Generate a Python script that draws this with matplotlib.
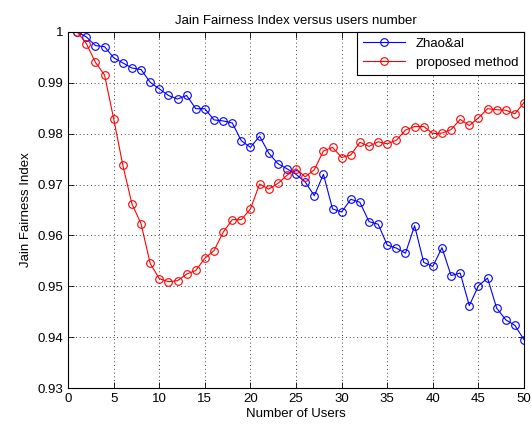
import matplotlib
matplotlib.use("Agg")
import matplotlib.pyplot as plt
from matplotlib.ticker import FuncFormatter

users = list(range(1, 51))
zhao = [1.0, 0.999, 0.9973, 0.9971, 0.9949, 0.9939, 0.9929, 0.9926, 0.9901, 0.9888,
        0.9875, 0.9868, 0.9875, 0.9849, 0.9849, 0.9827, 0.9825, 0.9821, 0.9786, 0.9773,
        0.9795, 0.9762, 0.9741, 0.9731, 0.9720, 0.9705, 0.9678, 0.9720, 0.9652, 0.9646,
        0.9671, 0.9665, 0.9627, 0.9622, 0.9581, 0.9575, 0.9565, 0.9619, 0.9547, 0.9539,
        0.9576, 0.9521, 0.9526, 0.9462, 0.9501, 0.9516, 0.9457, 0.9434, 0.9423, 0.9395]
proposed = [1.0, 0.9977, 0.9940, 0.9915, 0.9829, 0.9738, 0.9662, 0.9623, 0.9545, 0.9515,
            0.9509, 0.9511, 0.9524, 0.9531, 0.9555, 0.9570, 0.9606, 0.9631, 0.9631, 0.9652,
            0.9701, 0.9691, 0.9702, 0.9718, 0.9731, 0.9715, 0.9729, 0.9766, 0.9773, 0.9753,
            0.9758, 0.9783, 0.9775, 0.9784, 0.9780, 0.9787, 0.9807, 0.9814, 0.9814, 0.9800,
            0.9801, 0.9808, 0.9828, 0.9816, 0.9831, 0.9849, 0.9847, 0.9846, 0.9839, 0.9861]
series_labels = ["Zhao&al", "proposed method"]
xticks = list(range(0, 51, 5))
yticks = [0.93, 0.94, 0.95, 0.96, 0.97, 0.98, 0.99, 1.0]

plt.rcParams['font.family'] = ['Liberation Sans', 'DejaVu Sans']
fig = plt.figure(figsize=(5.32, 4.25), dpi=100)
ax = fig.add_axes([0.128, 0.087, 0.857, 0.838])

ax.plot(users, zhao, color='blue', marker='o', markerfacecolor='none',
        markersize=5.5, linewidth=0.8, markeredgewidth=0.8, label=series_labels[0])
ax.plot(users, proposed, color='red', marker='o', markerfacecolor='none',
        markersize=5.5, linewidth=0.8, markeredgewidth=0.8, label=series_labels[1])

ax.set_xlim(0, 50)
ax.set_ylim(0.93, 1.0)
ax.set_xticks(xticks)
ax.set_yticks(yticks)
ax.yaxis.set_major_formatter(FuncFormatter(lambda v, p: '%g' % round(v, 4)))
ax.tick_params(direction='in', top=True, right=True, labelsize=9.5, length=4, width=0.6)
ax.grid(True, linestyle=(0, (1, 3.5)), color='black', linewidth=0.6)
for s in ax.spines.values():
    s.set_linewidth(0.8)

ax.set_title("Jain Fairness Index versus users number", fontsize=9.5, pad=6)
ax.set_xlabel("Number of Users", fontsize=9.5, labelpad=2)
ax.set_ylabel("Jain Fairness Index", fontsize=9.5, labelpad=4)

leg = ax.legend(loc='upper right', fontsize=9.5, fancybox=False, edgecolor='black',
                framealpha=1, borderaxespad=0.0, handlelength=3.2, markerscale=1,
                labelspacing=0.5, borderpad=0.45)
leg.get_frame().set_linewidth(0.8)

fig.savefig("out.png", dpi=100)
